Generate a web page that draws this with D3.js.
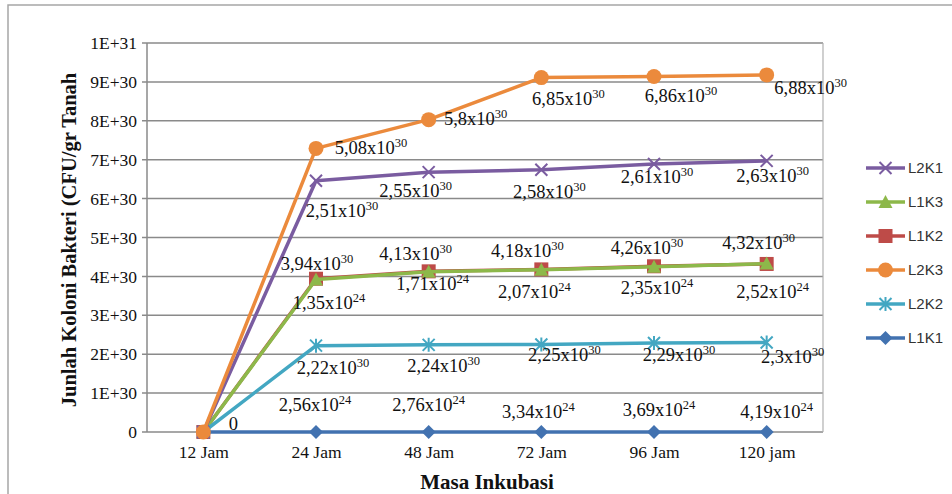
<!DOCTYPE html>
<html>
<head>
<meta charset="utf-8">
<script src="https://cdn.jsdelivr.net/npm/d3@7"></script>
<style>
  body { margin: 0; background: #fff; }
  svg { display: block; }
  text { font-family: 'Liberation Serif', 'Times New Roman', serif; fill: #111; }
  .legend text { font-family: 'Liberation Sans', Arial, sans-serif; fill: #333; }
</style>
</head>
<body>
<div id="chart"></div>
<script>
// categories and series values (CFU/gr)
const categories = ['12 Jam', '24 Jam', '48 Jam', '72 Jam', '96 Jam', '120 jam']
const L1K2 = [0, 3.94e30, 4.13e30, 4.18e30, 4.26e30, 4.32e30]
const L1K3 = [0, 3.92e30, 4.12e30, 4.17e30, 4.25e30, 4.33e30]
const L1K1 = [0, 2.56e24, 2.76e24, 3.34e24, 3.69e24, 4.19e24]
const L2K2 = [0, 2.22e30, 2.24e30, 2.25e30, 2.29e30, 2.30e30]
const L2K1 = [0, 6.46e30, 6.68e30, 6.74e30, 6.89e30, 6.97e30]
const L2K3 = [0, 7.29e30, 8.03e30, 9.11e30, 9.14e30, 9.18e30]
const yTicks = [0, 1e30, 2e30, 3e30, 4e30, 5e30, 6e30, 7e30, 8e30, 9e30, 1e31]

// data label texts: [mantissa, exponent]
const labelsL2K3 = [null, ['5,08', '30'], ['5,8', '30'], ['6,85', '30'], ['6,86', '30'], ['6,88', '30']]
const labelsL2K1 = [null, ['2,51', '30'], ['2,55', '30'], ['2,58', '30'], ['2,61', '30'], ['2,63', '30']]
const labelsL1K2 = [null, ['3,94', '30'], ['4,13', '30'], ['4,18', '30'], ['4,26', '30'], ['4,32', '30']]
const labelsL1K3 = [null, ['1,35', '24'], ['1,71', '24'], ['2,07', '24'], ['2,35', '24'], ['2,52', '24']]
const labelsL2K2 = [null, ['2,22', '30'], ['2,24', '30'], ['2,25', '30'], ['2,29', '30'], ['2,3', '30']]
const labelsL1K1 = [['0', ''], ['2,56', '24'], ['2,76', '24'], ['3,34', '24'], ['3,69', '24'], ['4,19', '24']]

// where each label sits relative to its point
const offsets = {
  L2K3: [null, [55, 0], [47, -1], [27, 21], [27, 20], [44, 13]],
  L2K1: [null, [26, 30], [-13, 19], [8, 22], [3, 13], [6, 15]],
  L1K2: [null, [1, -15], [-13, -17], [-14, -18], [-7, -18], [-8, -21]],
  L1K3: [null, [13, 23], [4, 12], [-7, 22], [3, 21], [6, 28]],
  L2K2: [null, [17, 22], [15, 21], [23, 11], [25, 12], [26, 14]],
  L1K1: [[30, -8], [-1, -27], [0, -27], [-3, -20], [5, -22], [10, -20]]
}

const series = [
  { name: 'L1K2', values: L1K2, labels: labelsL1K2, color: '#BE4B48', marker: 'square' },
  { name: 'L1K3', values: L1K3, labels: labelsL1K3, color: '#8DB84A', marker: 'triangle' },
  { name: 'L1K1', values: L1K1, labels: labelsL1K1, color: '#4272B0', marker: 'diamond' },
  { name: 'L2K2', values: L2K2, labels: labelsL2K2, color: '#43A7C2', marker: 'asterisk' },
  { name: 'L2K1', values: L2K1, labels: labelsL2K1, color: '#7A5CA0', marker: 'x' },
  { name: 'L2K3', values: L2K3, labels: labelsL2K3, color: '#EB8A3C', marker: 'circle' }
]
const legendOrder = ['L2K1', 'L1K3', 'L1K2', 'L2K3', 'L2K2', 'L1K1']

const width = 952
const height = 494
const plot = { left: 147, right: 823, top: 43, bottom: 432 }

const svg = d3.select('#chart').append('svg')
  .attr('width', width)
  .attr('height', height)

// outer chart frame
svg.append('rect')
  .attr('x', 8).attr('y', 5)
  .attr('width', 980).attr('height', 520)
  .attr('fill', 'none')
  .attr('stroke', '#a6a6a6')
  .attr('stroke-width', 1.5)

const xScale = d3.scalePoint()
  .domain(categories)
  .range([plot.left, plot.right])
  .padding(0.5)

const yScale = d3.scaleLinear()
  .domain([0, 1e31])
  .range([plot.bottom, plot.top])

// gridlines
svg.append('g')
  .selectAll('line')
  .data(yTicks)
  .join('line')
  .attr('x1', plot.left - 5)
  .attr('x2', plot.right)
  .attr('y1', d => yScale(d))
  .attr('y2', d => yScale(d))
  .attr('stroke', '#8a8a8a')
  .attr('stroke-width', 1.5)

// plot area right border and y axis line
svg.append('line')
  .attr('x1', plot.right).attr('x2', plot.right)
  .attr('y1', plot.top).attr('y2', plot.bottom)
  .attr('stroke', '#b0b0b0').attr('stroke-width', 1.2)
svg.append('line')
  .attr('x1', plot.left).attr('x2', plot.left)
  .attr('y1', plot.top).attr('y2', plot.bottom)
  .attr('stroke', '#8a8a8a').attr('stroke-width', 1.5)

// y axis labels
const yAxis = d3.axisLeft(yScale)
  .tickValues(yTicks)
  .tickSize(0)
  .tickPadding(10)
  .tickFormat(d => d === 0 ? '0' : d.toExponential(0).toUpperCase())
svg.append('g')
  .attr('transform', 'translate(' + plot.left + ',0)')
  .call(yAxis)
  .call(g => g.select('.domain').remove())
  .selectAll('text')
  .attr('font-family', 'Liberation Serif, serif')
  .attr('font-size', 17.5)
  .attr('fill', '#222')

// x axis labels
const xAxis = d3.axisBottom(xScale).tickSize(0).tickPadding(14)
svg.append('g')
  .attr('transform', 'translate(0,' + plot.bottom + ')')
  .call(xAxis)
  .call(g => g.select('.domain').remove())
  .selectAll('text')
  .attr('font-family', 'Liberation Serif, serif')
  .attr('font-size', 17.5)
  .attr('fill', '#222')

// axis titles
svg.append('text')
  .attr('x', 487)
  .attr('y', 489)
  .attr('text-anchor', 'middle')
  .attr('font-weight', 'bold')
  .attr('font-size', 21)
  .text('Masa Inkubasi')

svg.append('text')
  .attr('transform', 'translate(76,240) rotate(-90)')
  .attr('text-anchor', 'middle')
  .attr('font-weight', 'bold')
  .attr('font-size', 20.5)
  .text('Junlah Koloni Bakteri (CFU/gr Tanah')

/**
 * Draws one marker shape centred on the origin of the selection.
 */
function drawMarker (g, type, color) {
  if (type === 'circle') {
    g.append('circle').attr('r', 7.5).attr('fill', color)
  } else if (type === 'square') {
    g.append('rect').attr('x', -7).attr('y', -7).attr('width', 14).attr('height', 14)
      .attr('fill', color)
  } else if (type === 'triangle') {
    g.append('path').attr('d', 'M0,-7L7,6L-7,6Z').attr('fill', color)
  } else if (type === 'diamond') {
    g.append('path').attr('d', 'M0,-7L7,0L0,7L-7,0Z').attr('fill', color)
  } else if (type === 'x') {
    g.append('path').attr('d', 'M-6,-6L6,6M-6,6L6,-6')
      .attr('stroke', color).attr('stroke-width', 2).attr('fill', 'none')
  } else if (type === 'asterisk') {
    g.append('path').attr('d', 'M-6,-6L6,6M-6,6L6,-6M0,-7L0,7')
      .attr('stroke', color).attr('stroke-width', 2).attr('fill', 'none')
  }
}

const line = d3.line()
  .x((d, i) => xScale(categories[i]))
  .y(d => yScale(d))

series.forEach(s => {
  const g = svg.append('g')
  g.append('path')
    .datum(s.values)
    .attr('d', line)
    .attr('fill', 'none')
    .attr('stroke', s.color)
    .attr('stroke-width', 3.5)
    .attr('stroke-linejoin', 'round')
  s.values.forEach((v, i) => {
    const m = g.append('g')
      .attr('transform', 'translate(' + xScale(categories[i]) + ',' + yScale(v) + ')')
    drawMarker(m, s.marker, s.color)
  })
})

// data labels
series.forEach(s => {
  s.labels.forEach((lab, i) => {
    if (!lab) return
    const off = offsets[s.name][i]
    const t = svg.append('text')
      .attr('x', xScale(categories[i]) + off[0])
      .attr('y', yScale(s.values[i]) + off[1] + 6)
      .attr('text-anchor', 'middle')
      .attr('font-size', 18.5)
      .attr('fill', '#1a1a1a')
    if (lab[1] === '') {
      t.text(lab[0])
    } else {
      t.append('tspan').text(lab[0] + 'x10')
      t.append('tspan').attr('font-size', 12.5).attr('dy', -7).text(lab[1])
    }
  })
})

// legend
const legend = svg.append('g').attr('class', 'legend')
legendOrder.forEach((name, i) => {
  const s = series.find(d => d.name === name)
  const g = legend.append('g').attr('transform', 'translate(866,' + (168 + i * 34) + ')')
  g.append('line')
    .attr('x1', 0).attr('x2', 39)
    .attr('stroke', s.color).attr('stroke-width', 3.5)
  const m = g.append('g').attr('transform', 'translate(19.5,0)')
  drawMarker(m, s.marker, s.color)
  g.append('text')
    .attr('x', 42)
    .attr('y', 5)
    .attr('font-size', 15)
    .text(name)
})
</script>
</body>
</html>
